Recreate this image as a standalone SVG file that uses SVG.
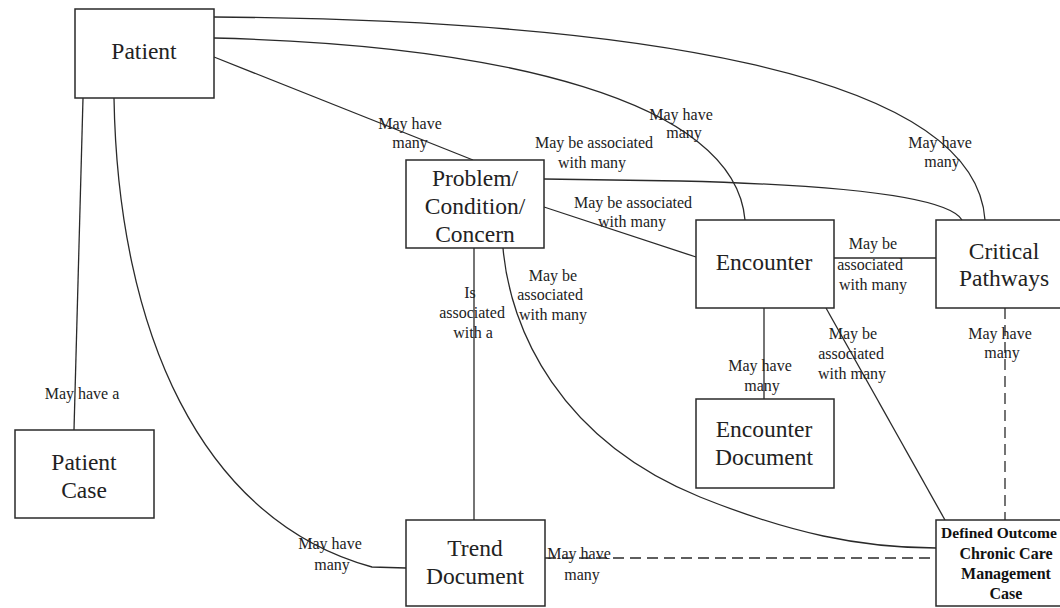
<svg xmlns="http://www.w3.org/2000/svg" width="1060" height="608" viewBox="0 0 1060 608">
  <style>
    .box { fill: #fff; stroke: #2a2a2a; stroke-width: 1.5; }
    .node-text { font-family: "Liberation Serif", "Times New Roman", serif; font-size: 23.5px; fill: #222; text-anchor: middle; }
    .bold-text { font-family: "Liberation Serif", "Times New Roman", serif; font-size: 16px; font-weight: bold; fill: #111; text-anchor: middle; }
    .edge { fill: none; stroke: #2a2a2a; stroke-width: 1.3; }
    .dashed { stroke-dasharray: 11 6; }
    .label { font-family: "Liberation Serif", "Times New Roman", serif; font-size: 16px; fill: #222; text-anchor: middle; }
  </style>

  <!-- connectors -->
  <g id="connectors">
    <!-- Patient -> Critical Pathways -->
    <path class="edge" d="M214,17 C620,20 975,70 985,220"/>
    <!-- Patient -> Encounter -->
    <path class="edge" d="M214,38 C500,45 735,100 745,220"/>
    <!-- Patient -> Problem -->
    <path class="edge" d="M214,57 L473,160"/>
    <!-- Patient -> Patient Case -->
    <path class="edge" d="M83,98 L74,430"/>
    <!-- Patient -> Trend Document -->
    <path class="edge" d="M114,98 C118,330 200,520 372,567 L406,568"/>
    <!-- Problem -> Critical Pathways -->
    <path class="edge" d="M544,179 L680,181 C800,184 945,192 962,220"/>
    <!-- Problem -> Encounter -->
    <path class="edge" d="M544,207 L696,257"/>
    <!-- Problem -> Trend Document -->
    <path class="edge" d="M474,248 L474,520"/>
    <!-- Problem -> Defined Outcome -->
    <path class="edge" d="M503,248 C510,330 560,440 700,497 C790,533 860,548 936,548"/>
    <!-- Encounter -> Critical Pathways -->
    <path class="edge" d="M834,258 L936,258"/>
    <!-- Encounter -> Encounter Document -->
    <path class="edge" d="M764,308 L764,399"/>
    <!-- Encounter -> Defined Outcome -->
    <path class="edge" d="M826,308 L945,520"/>
    <!-- Critical Pathways -> Defined Outcome -->
    <path class="edge dashed" d="M1005,308 L1005,520"/>
    <!-- Trend Document -> Defined Outcome -->
    <path class="edge dashed" d="M545,558 L936,558"/>

    <!-- connector labels -->
    <text class="label" x="410" y="129">May have</text>
    <text class="label" x="410" y="148">many</text>

    <text class="label" x="681" y="120">May have</text>
    <text class="label" x="684" y="138">many</text>

    <text class="label" x="940" y="148">May have</text>
    <text class="label" x="942" y="167">many</text>

    <text class="label" x="594" y="148">May be associated</text>
    <text class="label" x="592" y="168">with many</text>

    <text class="label" x="633" y="208">May be associated</text>
    <text class="label" x="632" y="227">with many</text>

    <text class="label" x="873" y="249">May be</text>
    <text class="label" x="870" y="270">associated</text>
    <text class="label" x="873" y="290">with many</text>

    <text class="label" x="470" y="298">Is</text>
    <text class="label" x="472" y="318">associated</text>
    <text class="label" x="473" y="338">with a</text>

    <text class="label" x="553" y="281">May be</text>
    <text class="label" x="550" y="300">associated</text>
    <text class="label" x="553" y="320">with many</text>

    <text class="label" x="760" y="371">May have</text>
    <text class="label" x="762" y="391">many</text>

    <text class="label" x="853" y="339">May be</text>
    <text class="label" x="851" y="359">associated</text>
    <text class="label" x="852" y="379">with many</text>

    <text class="label" x="1000" y="339">May have</text>
    <text class="label" x="1002" y="358">many</text>

    <text class="label" x="579" y="559">May have</text>
    <text class="label" x="582" y="580">many</text>

    <text class="label" x="330" y="549">May have</text>
    <text class="label" x="332" y="570">many</text>

    <text class="label" x="82" y="399">May have a</text>
  </g>

  <!-- nodes -->
  <g id="patient">
    <rect class="box" x="75" y="9" width="139" height="89"/>
    <text class="node-text" x="144" y="59">Patient</text>
  </g>

  <g id="problem">
    <rect class="box" x="406" y="160" width="138" height="88"/>
    <text class="node-text" x="475" y="186">Problem/</text>
    <text class="node-text" x="475" y="214">Condition/</text>
    <text class="node-text" x="475" y="242">Concern</text>
  </g>

  <g id="encounter">
    <rect class="box" x="696" y="220" width="138" height="88"/>
    <text class="node-text" x="764" y="270">Encounter</text>
  </g>

  <g id="critical-pathways">
    <rect class="box" x="936" y="220" width="140" height="88"/>
    <text class="node-text" x="1004" y="259">Critical</text>
    <text class="node-text" x="1004" y="286">Pathways</text>
  </g>

  <g id="encounter-document">
    <rect class="box" x="696" y="399" width="138" height="89"/>
    <text class="node-text" x="764" y="437">Encounter</text>
    <text class="node-text" x="764" y="465">Document</text>
  </g>

  <g id="patient-case">
    <rect class="box" x="15" y="430" width="139" height="88"/>
    <text class="node-text" x="84" y="470">Patient</text>
    <text class="node-text" x="84" y="498">Case</text>
  </g>

  <g id="trend-document">
    <rect class="box" x="406" y="520" width="139" height="86"/>
    <text class="node-text" x="475" y="556">Trend</text>
    <text class="node-text" x="475" y="584">Document</text>
  </g>

  <g id="defined-outcome">
    <rect class="box" x="936" y="520" width="140" height="86"/>
    <text class="bold-text" x="999" y="538" style="font-size:15.5px">Defined Outcome</text>
    <text class="bold-text" x="1006" y="559">Chronic Care</text>
    <text class="bold-text" x="1006" y="579">Management</text>
    <text class="bold-text" x="1006" y="599">Case</text>
  </g>
</svg>
